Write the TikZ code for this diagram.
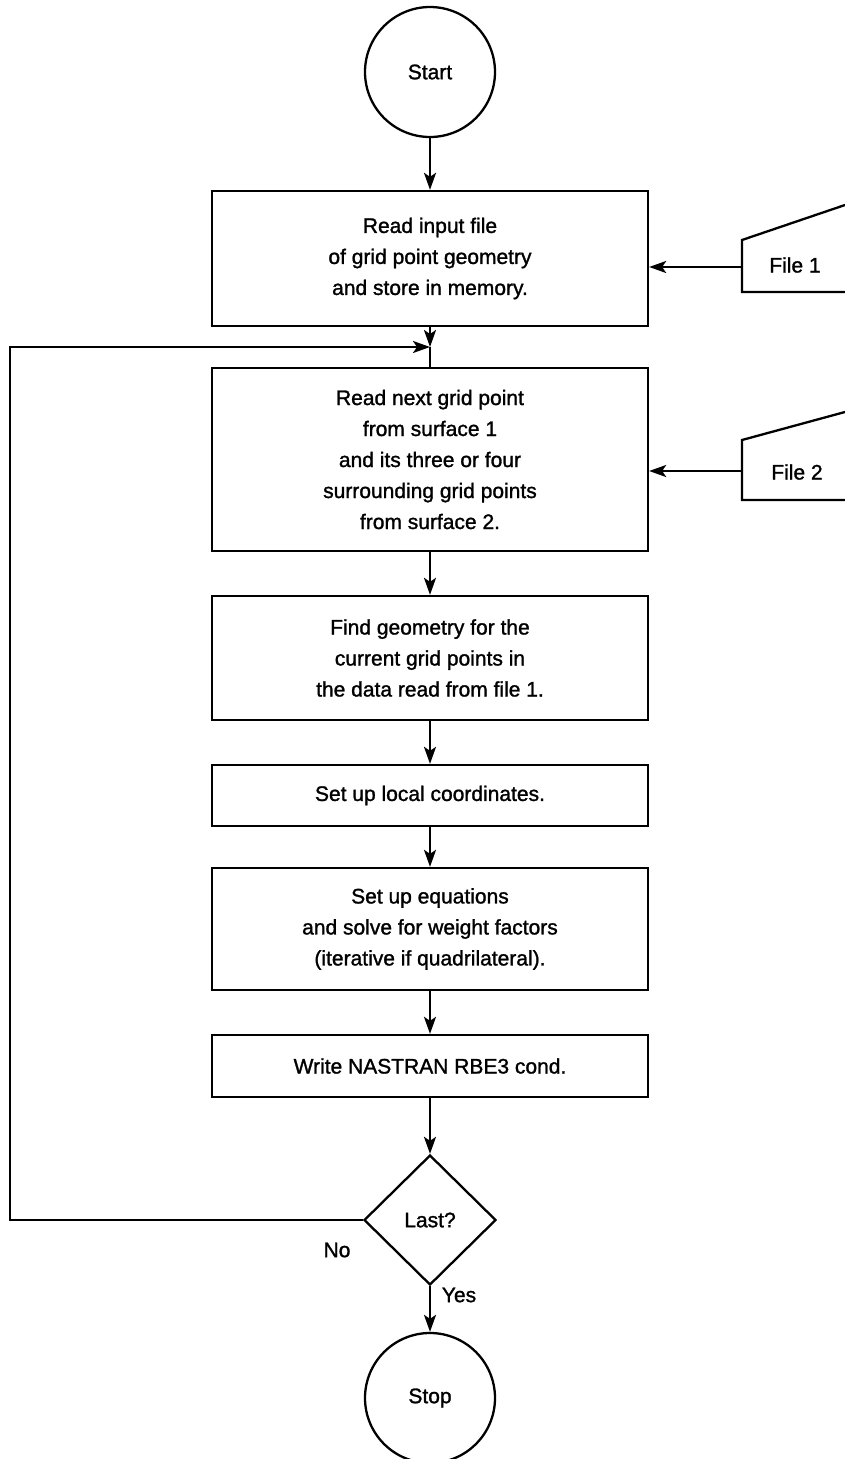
\documentclass[tikz,border=0pt]{standalone}
\usepackage{fontspec}
\setmainfont[FakeBold=1.3]{Liberation Sans}
\usetikzlibrary{shapes.geometric,arrows.meta}
\begin{document}
\begin{tikzpicture}[x=1pt,y=-1pt,
  every node/.style={font=\fontsize{21}{31}\selectfont},
  line/.style={line width=2.3pt, black},
  flow/.style={line, -{Stealth[length=17pt,width=12pt,inset=4pt]}},
  stepbox/.style={draw, line width=2.3pt, minimum width=436pt, align=center, inner sep=0pt},
  terminal/.style={circle, draw, line width=2.3pt, minimum size=130pt, inner sep=0pt},
  decision/.style={diamond, draw, line width=2.3pt, minimum width=132pt, minimum height=130pt, inner sep=0pt},
  label/.style={inner sep=0pt}]
\useasboundingbox (0,0) rectangle (845,1459);

% main column
\node[terminal] (start) at (430,72) {Start};
\node[stepbox, minimum height=135pt] (b1) at (430,258.5)
  {Read input file\\of grid point geometry\\and store in memory.};
\node[stepbox, minimum height=183pt] (b2) at (430,459.5)
  {Read next grid point\\from surface 1\\and its three or four\\surrounding grid points\\from surface 2.};
\node[stepbox, minimum height=124pt] (b3) at (430,658)
  {Find geometry for the\\current grid points in\\the data read from file 1.};
\node[stepbox, minimum height=61pt] (b4) at (430,795.5)
  {Set up local coordinates.};
\node[stepbox, minimum height=122pt] (b5) at (430,929)
  {Set up equations\\and solve for weight factors\\(iterative if quadrilateral).};
\node[stepbox, minimum height=62pt] (b6) at (430,1066)
  {Write NASTRAN RBE3 cond.};
\node[decision] (last) at (430,1220) {Last?};
\node[terminal] (stop) at (430,1398) {Stop};

\node[label] (no) at (337,1250) {No};
\node[label] (yes) at (459,1295) {Yes};

% input files (manual input shapes running off the right edge)
\node[label] (f1) at (795,265) {File 1};
\coordinate (f1in) at (742,267);
\draw[line] (845,205) -- (742,240) -- (742,292) -- (845,292);
\node[label] (f2) at (797,472) {File 2};
\coordinate (f2in) at (742,471);
\draw[line] (845,412) -- (742,440) -- (742,500) -- (845,500);

% connectors
\coordinate (join) at (430,347);
\coordinate (back) at (10,347);
\draw[flow] (start) -- (b1);
\draw[flow] (b1) -- (join);
\draw[line] (join) -- (b2);
\draw[flow] (b2) -- (b3);
\draw[flow] (b3) -- (b4);
\draw[flow] (b4) -- (b5);
\draw[flow] (b5) -- (b6);
\draw[flow] (b6) -- (last);
\draw[flow] (last) -- (stop);
\draw[flow] (last.west) -| (back) -- (join);
\draw[flow] (f1in) -- (f1in -| b1.east);
\draw[flow] (f2in) -- (f2in -| b2.east);
\end{tikzpicture}
\end{document}
